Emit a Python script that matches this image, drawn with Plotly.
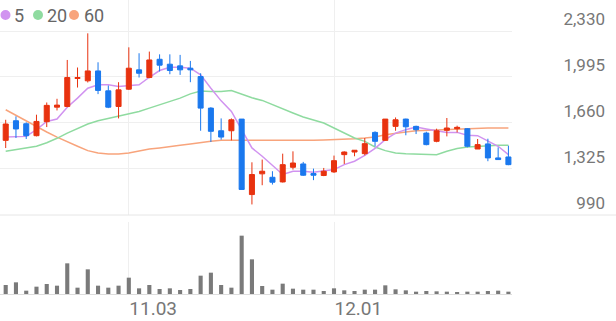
import plotly.graph_objects as go

dates = ["10.16", "10.17", "10.20", "10.21", "10.22", "10.23", "10.24", "10.27", "10.28", "10.29",
         "10.30", "10.31", "11.03", "11.04", "11.05", "11.06", "11.07", "11.10", "11.11", "11.12",
         "11.13", "11.14", "11.17", "11.18", "11.19", "11.20", "11.21", "11.24", "11.25", "11.26",
         "11.27", "11.28", "12.01", "12.02", "12.03", "12.04", "12.05", "12.08", "12.09", "12.10",
         "12.11", "12.12", "12.15", "12.16", "12.17", "12.18", "12.19", "12.22", "12.23", "12.24"]

opens = [1533, 1676, 1654, 1567, 1669, 1775, 1780, 1984, 1967, 2039,
         1894, 1780, 1906, 2047, 1991, 2124, 2088, 2076, 2059, 1998,
         1768, 1603, 1603, 1688, 1138, 1289, 1264, 1230, 1337, 1361,
         1291, 1277, 1303, 1429, 1448, 1436, 1591, 1533, 1635, 1688,
         1635, 1586, 1526, 1606, 1618, 1618, 1470, 1507, 1405, 1412]
highs = [1683, 1708, 1664, 1720, 1809, 1836, 2119, 2064, 2313, 2102,
         1933, 1957, 2211, 2168, 2180, 2160, 2160, 2156, 2112, 2022,
         1775, 1693, 1693, 1688, 1373, 1393, 1308, 1436, 1453, 1376,
         1327, 1332, 1422, 1453, 1461, 1550, 1599, 1688, 1700, 1691,
         1640, 1596, 1618, 1696, 1640, 1623, 1543, 1545, 1482, 1494]
lows = [1477, 1550, 1543, 1562, 1630, 1751, 1775, 1918, 1955, 1870,
        1768, 1693, 1901, 1991, 1986, 2035, 2015, 2010, 1957, 1603,
        1521, 1538, 1533, 1175, 1066, 1206, 1211, 1226, 1320, 1274,
        1243, 1272, 1296, 1361, 1417, 1424, 1490, 1531, 1603, 1570,
        1579, 1497, 1519, 1562, 1591, 1482, 1470, 1381, 1393, 1352]
closes = [1652, 1616, 1567, 1671, 1788, 1790, 1991, 1991, 2039, 1897,
          1775, 1901, 2059, 2022, 2119, 2081, 2042, 2047, 2047, 1768,
          1599, 1557, 1683, 1175, 1284, 1308, 1228, 1356, 1368, 1279,
          1279, 1308, 1385, 1448, 1461, 1509, 1526, 1688, 1683, 1632,
          1611, 1502, 1603, 1623, 1628, 1490, 1502, 1405, 1393, 1356]

ma5 = [1557, 1557, 1562, 1611, 1671, 1688, 1775, 1841, 1913, 1938,
       1938, 1926, 1930, 1938, 1993, 2042, 2066, 2066, 2059, 2010,
       1913, 1821, 1744, 1611, 1478, 1417, 1349, 1284, 1308, 1308,
       1301, 1308, 1320, 1356, 1381, 1424, 1475, 1538, 1586, 1611,
       1630, 1616, 1606, 1591, 1591, 1570, 1567, 1526, 1490, 1429]
ma20 = [1453, 1465, 1478, 1490, 1516, 1548, 1586, 1620, 1652, 1676,
        1693, 1710, 1725, 1744, 1768, 1792, 1817, 1841, 1872, 1892,
        1889, 1889, 1897, 1872, 1843, 1824, 1792, 1761, 1732, 1703,
        1683, 1659, 1623, 1586, 1550, 1526, 1485, 1458, 1441, 1436,
        1434, 1431, 1429, 1453, 1473, 1485, 1490, 1494, 1497, 1497]
ma60 = [1756, 1715, 1671, 1635, 1594, 1557, 1526, 1490, 1458, 1441,
        1434, 1434, 1441, 1458, 1470, 1478, 1490, 1497, 1507, 1519,
        1526, 1533, 1533, 1533, 1533, 1531, 1531, 1528, 1531, 1533,
        1533, 1536, 1538, 1543, 1545, 1550, 1557, 1574, 1586, 1594,
        1603, 1606, 1611, 1616, 1618, 1620, 1620, 1623, 1623, 1623]

volume = [270000, 350000, 100000, 220000, 300000, 250000, 920000, 190000, 740000, 250000,
          190000, 250000, 490000, 170000, 270000, 150000, 170000, 120000, 150000, 550000,
          640000, 270000, 190000, 1750000, 1040000, 240000, 130000, 310000, 160000, 130000,
          130000, 90000, 170000, 110000, 90000, 130000, 130000, 260000, 140000, 110000,
          70000, 90000, 80000, 70000, 40000, 70000, 70000, 90000, 100000, 70000]

price_ticks = [990, 1325, 1660, 1995, 2330]
price_tick_text = ["990", "1,325", "1,660", "1,995", "2,330"]
date_ticks = ["11.03", "12.01"]
ma_names = ["5", "20", "60"]

RED = "#e8320f"
BLUE = "#1a78ee"
PURPLE = "#d193f0"
GREEN = "#8fdba0"
ORANGE = "#f8a47c"
GRID = "#efefef"
TEXT = "#777777"
FONT = "Roboto"

W, H = 616, 321
X_RANGE = [-0.556, 49.35]
P_RANGE = [989, 2556]
X_DOMAIN = [0, 512 / W]

fig = go.Figure()

for vals, color in [(ma60, ORANGE), (ma20, GREEN), (ma5, PURPLE)]:
    fig.add_trace(go.Scatter(x=dates, y=vals, mode="lines", line=dict(color=color, width=1.5),
                             xaxis="x", yaxis="y", showlegend=False, hoverinfo="skip"))

fig.add_trace(go.Candlestick(
    x=dates, open=opens, high=highs, low=lows, close=closes,
    increasing=dict(line=dict(color=RED, width=1), fillcolor=RED),
    decreasing=dict(line=dict(color=BLUE, width=1), fillcolor=BLUE),
    whiskerwidth=0, xaxis="x", yaxis="y3", showlegend=False, hoverinfo="skip"))

fig.add_trace(go.Bar(x=dates, y=volume, marker=dict(color="#7a7a7a", line=dict(width=0)),
                     width=0.4, xaxis="x2", yaxis="y2", showlegend=False, hoverinfo="skip"))

shapes = [dict(type="line", xref="paper", yref="paper", x0=0, x1=1,
               y0=1 - 215 / H, y1=1 - 215 / H, line=dict(color="#e6e6e6", width=1))]

# legend: dots + labels
legend_y = 1 - 15 / H
dot_x = [5.5, 38, 74]
text_x = [12, 45, 82]
for c, dx in zip([PURPLE, GREEN, ORANGE], dot_x):
    shapes.append(dict(type="circle", xref="paper", yref="paper",
                       xsizemode="pixel", ysizemode="pixel",
                       xanchor=dx / W, yanchor=legend_y,
                       x0=-5, x1=5, y0=-5, y1=5,
                       fillcolor=c, line=dict(width=0)))

fig.update_layout(
    width=W, height=H,
    margin=dict(l=0, r=0, t=0, b=0),
    paper_bgcolor="white", plot_bgcolor="white",
    font=dict(family=FONT, color=TEXT),
    xaxis=dict(domain=X_DOMAIN, type="category", range=X_RANGE, anchor="y",
               tickvals=date_ticks, showticklabels=False, showgrid=True, gridcolor=GRID,
               gridwidth=1, zeroline=False, ticks="", rangeslider=dict(visible=False),
               fixedrange=True),
    yaxis=dict(domain=[1 - 215 / H, 1], range=P_RANGE, anchor="free", position=605 / W,
               side="left", tickvals=price_ticks, ticktext=price_tick_text,
               ticklabelposition="outside top", tickfont=dict(family=FONT, size=17, color=TEXT),
               showgrid=True, gridcolor=GRID, gridwidth=1, zeroline=False, ticks="",
               automargin=False, fixedrange=True),
    yaxis3=dict(overlaying="y", range=P_RANGE, visible=False, fixedrange=True),
    xaxis2=dict(domain=X_DOMAIN, type="category", range=X_RANGE, anchor="y2",
                tickvals=date_ticks, ticktext=date_ticks, ticklabelposition="outside right",
                ticklabelstandoff=-3,
                tickfont=dict(family=FONT, size=19, color=TEXT), showgrid=True, gridcolor=GRID,
                showline=True, linecolor="#dddddd", linewidth=1, zeroline=False, ticks="",
                automargin=False, fixedrange=True),
    yaxis2=dict(domain=[27 / H, 99 / H], range=[0, 2160000], anchor="x2",
                showgrid=False, showticklabels=False, zeroline=False, ticks="",
                fixedrange=True),
    shapes=shapes,
)

for n, tx in zip(ma_names, text_x):
    fig.add_annotation(xref="paper", yref="paper", x=tx / W, y=legend_y, xanchor="left",
                       yanchor="middle", text=n, showarrow=False,
                       font=dict(family=FONT, size=18, color="#666666"))

fig.write_html("out.html")
